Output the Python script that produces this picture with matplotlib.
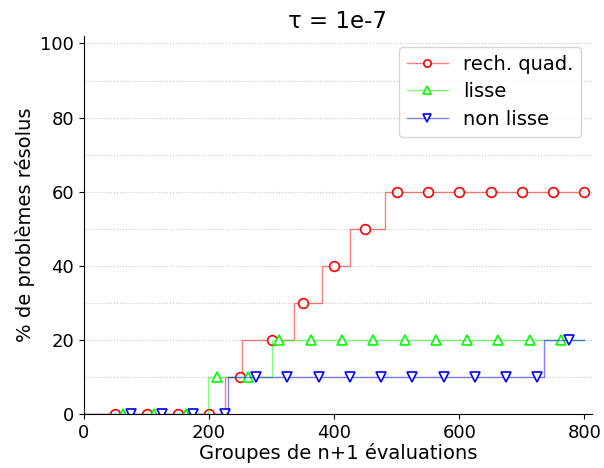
import matplotlib
matplotlib.use("Agg")
import matplotlib.pyplot as plt
from matplotlib.ticker import MultipleLocator
import numpy as np

# courbes de performance : paliers (abscisse du saut, niveau atteint)
rq_x = [0, 226, 253, 335, 380, 425, 481, 800]
rq_y = [0, 10, 20, 30, 40, 50, 60, 60]
lisse_x = [0, 198, 301, 800]
lisse_y = [0, 10, 20, 20]
nonlisse_x = [0, 230, 736, 800]
nonlisse_y = [0, 10, 20, 20]

# positions des marqueurs (un tous les 50, décalés selon la courbe)
rq_marks = np.arange(50, 801, 50)
lisse_marks = np.arange(62.5, 801, 50)
nonlisse_marks = np.arange(75, 801, 50)

series = [
    ("rech. quad.", rq_x, rq_y, rq_marks, (1, 0, 0), "o"),
    ("lisse", lisse_x, lisse_y, lisse_marks, (0, 1, 0), "^"),
    ("non lisse", nonlisse_x, nonlisse_y, nonlisse_marks, (0, 0, 1), "v"),
]

fig, ax = plt.subplots(figsize=(6.04, 4.68), dpi=100)
fig.subplots_adjust(left=0.139, right=0.98, bottom=0.115, top=0.923)


def step_value(xs, ys, t):
    i = np.searchsorted(xs, t, side="right") - 1
    return ys[i]


for label, xs, ys, marks, col, mk in series:
    xs = np.asarray(xs, float)
    ys = np.asarray(ys, float)
    allx = np.union1d(xs, marks)
    ally = np.array([step_value(xs, ys, t) for t in allx])
    idx = [int(np.where(allx == m)[0][0]) for m in marks]
    ax.plot(allx, ally, drawstyle="steps-post", color=col + (0.5,), lw=1.0,
            marker=mk, markevery=idx, ms=7, mfc="white", mec=col, mew=1.2,
            label=label)

ax.set_xlim(0, 812)
ax.set_ylim(0, 102)
ax.xaxis.set_major_locator(MultipleLocator(200))
ax.yaxis.set_major_locator(MultipleLocator(20))
ax.yaxis.set_minor_locator(MultipleLocator(10))
ax.tick_params(axis="y", which="minor", length=0)
ax.grid(True, axis="y", which="both", linestyle=":", color="#c8c8c8", lw=0.8)
ax.set_axisbelow(True)
ax.spines["top"].set_visible(False)
ax.spines["right"].set_visible(False)
ax.tick_params(labelsize=13)

ax.set_title("τ = 1e-7", fontsize=16.5)
ax.set_xlabel("Groupes de n+1 évaluations", fontsize=14, labelpad=1)
ax.set_ylabel("% de problèmes résolus", fontsize=14)
ax.legend(loc="upper right", fontsize=14, handlelength=2.1, markerscale=0.75,
          borderaxespad=0.55, labelspacing=0.45)

fig.savefig("out.png", dpi=100)
